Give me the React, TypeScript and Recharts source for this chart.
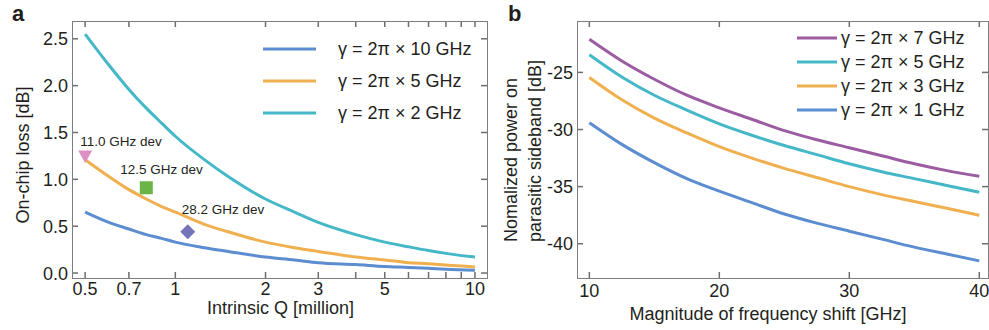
import React from "react";
import {
  ComposedChart,
  LineChart,
  Line,
  Scatter,
  XAxis,
  YAxis,
  Legend,
} from "recharts";

const FONT = '"Liberation Sans", Arial, Helvetica, sans-serif';
const INK = "#231f20";
const FRAME = "#7d7d7d";
const TICK = "#6e6e6e";

// panel a: on-chip loss vs intrinsic Q
const qMillion = [0.5, 0.6, 0.7, 0.8, 0.9, 1, 1.25, 1.5, 2, 2.5, 3, 4, 5, 6, 7, 8, 10];
const loss10GHz = [0.65, 0.54, 0.47, 0.41, 0.37, 0.33, 0.27, 0.23, 0.17, 0.14, 0.11, 0.09, 0.07, 0.06, 0.05, 0.04, 0.03];
const loss5GHz = [1.21, 1.03, 0.89, 0.79, 0.71, 0.65, 0.52, 0.44, 0.33, 0.27, 0.23, 0.17, 0.14, 0.11, 0.1, 0.085, 0.065];
const loss2GHz = [2.55, 2.22, 1.96, 1.76, 1.6, 1.46, 1.21, 1.03, 0.79, 0.65, 0.54, 0.41, 0.33, 0.28, 0.24, 0.21, 0.17];

const devQ = [0.5, 0.8, 1.1];
const devLoss = [1.25, 0.91, 0.44];
const devNames = ["11.0 GHz dev", "12.5 GHz dev", "28.2 GHz dev"];

const qTicks = [0.5, 0.7, 1, 2, 3, 4, 5, 6, 7, 8, 9, 10];
const qLabelled = [0.5, 0.7, 1, 2, 3, 5, 10];
const lossTicks = [0, 0.5, 1, 1.5, 2, 2.5];

// panel b: parasitic sideband power vs frequency shift
const shiftGHz = [10, 12.5, 15, 17.5, 20, 22.5, 25, 27.5, 30, 32.5, 35, 37.5, 40];
const side7GHz = [-22.1, -24.0, -25.6, -27.0, -28.1, -29.1, -30.1, -30.9, -31.6, -32.3, -33.0, -33.6, -34.1];
const side5GHz = [-23.45, -25.4, -27.0, -28.3, -29.5, -30.5, -31.4, -32.2, -33.0, -33.7, -34.3, -34.9, -35.5];
const side3GHz = [-25.45, -27.4, -29.0, -30.3, -31.5, -32.5, -33.4, -34.2, -35.0, -35.7, -36.3, -36.9, -37.5];
const side1GHz = [-29.4, -31.3, -32.9, -34.3, -35.4, -36.4, -37.4, -38.2, -38.9, -39.6, -40.3, -40.9, -41.5];

const shiftTicks = [10, 20, 30, 40];
const sideTicks = [-40, -35, -30, -25];

const lossData = qMillion.map((q, i) => ({
  q,
  g10: loss10GHz[i],
  g5: loss5GHz[i],
  g2: loss2GHz[i],
}));
const devData = devQ.map((q, i) => ({ q, loss: devLoss[i], name: devNames[i] }));
const sideData = shiftGHz.map((f, i) => ({
  f,
  g7: side7GHz[i],
  g5: side5GHz[i],
  g3: side3GHz[i],
  g1: side1GHz[i],
}));

const Q_DOMAIN: [number, number] = [0.452, 10.97];
const LOSS_DOMAIN: [number, number] = [-0.053, 2.69];
const SHIFT_DOMAIN: [number, number] = [9.05, 40.67];
const SIDE_DOMAIN: [number, number] = [-43.0, -20.5];

// plot box (chart coords), set by the margins below
const A = { top: 21, bottom: 278, left: 72, right: 487 };
const B = { top: 21, bottom: 278, left: 87, right: 498 };

const textStyle = { fill: INK, fontSize: 18, fontFamily: FONT };

// inward tick marks on both sides
const xTick = (top: number, labelDy: number, shown: number[] | null) => (props: any) => {
  const { x, y, payload } = props;
  const v = payload.value;
  const show = !shown || shown.includes(v);
  return (
    <g>
      <rect x={x - 0.75} y={y - 6} width={1.5} height={6} fill={TICK} />
      <rect x={x - 0.75} y={top} width={1.5} height={6} fill={TICK} />
      {show && (
        <text x={x} y={y + labelDy} textAnchor="middle" {...textStyle}>
          {v}
        </text>
      )}
    </g>
  );
};

const yTick = (right: number, fmt: (v: number) => string) => (props: any) => {
  const { x, y, payload } = props;
  return (
    <g>
      <rect x={x} y={y - 0.75} width={6} height={1.5} fill={TICK} />
      <rect x={right - 6} y={y - 0.75} width={6} height={1.5} fill={TICK} />
      <text x={x - 4} y={y + 6.5} textAnchor="end" {...textStyle}>
        {fmt(payload.value)}
      </text>
    </g>
  );
};

const legendContent = (order: string[], lineW: number, gap: number, rowH: number) => (props: any) => {
  const items = (props.payload || [])
    .filter((p: any) => order.includes(p.dataKey))
    .sort((p: any, q: any) => order.indexOf(p.dataKey) - order.indexOf(q.dataKey));
  return (
    <div style={{ fontFamily: FONT, fontSize: 18, color: INK, whiteSpace: "nowrap" }}>
      {items.map((p: any) => (
        <div key={p.dataKey} style={{ display: "flex", alignItems: "center", height: rowH }}>
          <svg width={lineW} height={4} style={{ display: "block" }}>
            <line x1={0} x2={lineW} y1={2} y2={2} stroke={p.color} strokeWidth={3} />
          </svg>
          <span style={{ marginLeft: gap }}>{p.value}</span>
        </div>
      ))}
    </div>
  );
};

// marker glyphs + their text, offsets from the point
const devStyles = [
  { color: "#db8fc3", dx: -5, dy: -10 },
  { color: "#6ab545", dx: -26, dy: -14 },
  { color: "#7574b8", dx: -6, dy: -18 },
];

const devShape = (i: number) => (props: any) => {
  const { cx, cy } = props;
  const s = devStyles[i];
  let glyph;
  if (i === 0) {
    glyph = <polygon points={`${cx - 7},${cy - 5.5} ${cx + 7},${cy - 5.5} ${cx},${cy + 7}`} fill={s.color} />;
  } else if (i === 1) {
    glyph = <rect x={cx - 6.5} y={cy - 6.5} width={13} height={13} fill={s.color} />;
  } else {
    glyph = <polygon points={`${cx},${cy - 7.5} ${cx + 7.5},${cy} ${cx},${cy + 7.5} ${cx - 7.5},${cy}`} fill={s.color} />;
  }
  return (
    <g>
      {glyph}
      <text x={cx + s.dx} y={cy + s.dy} fill={INK} fontSize={13.5} fontFamily={FONT}>
        {props.payload.name}
      </text>
    </g>
  );
};

const letter = (ch: string, left: number) => (
  <div
    style={{
      position: "absolute",
      left,
      top: 1,
      fontFamily: FONT,
      fontWeight: "bold",
      fontSize: 22,
      color: INK,
      lineHeight: "26px",
    }}
  >
    {ch}
  </div>
);

// plot frame overlay
const frame = (left: number, box: { top: number; bottom: number; left: number; right: number }) => (
  <div
    style={{
      position: "absolute",
      left: left + box.left,
      top: box.top,
      width: box.right - box.left + 1,
      height: box.bottom - box.top + 1,
      boxSizing: "border-box",
      border: `1px solid ${FRAME}`,
      pointerEvents: "none",
    }}
  />
);

export default function App() {
  return (
    <div style={{ position: "absolute", left: 0, top: 0, width: 989, height: 330, background: "#fff" }}>
      {letter("a", 12)}
      {letter("b", 508)}

      <div style={{ position: "absolute", left: 0, top: 0 }}>
        <ComposedChart
          width={500}
          height={330}
          data={lossData}
          margin={{ top: 21, right: 13, bottom: 22, left: 12 }}
        >
          <XAxis
            dataKey="q"
            type="number"
            scale="log"
            domain={Q_DOMAIN}
            allowDataOverflow
            ticks={qTicks}
            interval={0}
            height={30}
            axisLine={false}
            tickLine={false}
            tickSize={0}
            tickMargin={0}
            tick={xTick(A.top, 17, qLabelled)}
            label={(p: any) => (
              <text x={(A.left + A.right) / 2 + 1} y={314} textAnchor="middle" {...textStyle}>
                Intrinsic Q [million]
              </text>
            )}
          />
          <YAxis
            type="number"
            domain={LOSS_DOMAIN}
            allowDataOverflow
            ticks={lossTicks}
            interval={0}
            width={60}
            axisLine={false}
            tickLine={false}
            tickSize={0}
            tickMargin={0}
            tick={yTick(A.right, (v) => v.toFixed(1))}
            label={(p: any) => (
              <text
                x={28.5}
                y={155}
                transform="rotate(-90 28.5 155)"
                textAnchor="middle"
                {...textStyle}
              >
                On-chip loss [dB]
              </text>
            )}
          />
          <Legend
            layout="vertical"
            align="center"
            verticalAlign="middle"
            wrapperStyle={{ left: 263, top: 33 }}
            content={legendContent(["g10", "g5", "g2"], 53, 22, 32)}
          />
          <Line type="monotone" dataKey="g10" name="γ = 2π × 10 GHz" stroke="#5b8dd0" strokeWidth={3} dot={false} isAnimationActive={false} />
          <Line type="monotone" dataKey="g5" name="γ = 2π × 5 GHz" stroke="#f0b050" strokeWidth={3} dot={false} isAnimationActive={false} />
          <Line type="monotone" dataKey="g2" name="γ = 2π × 2 GHz" stroke="#45b8c8" strokeWidth={3} dot={false} isAnimationActive={false} />
          {devData.map((d, i) => (
            <Scatter
              key={d.name}
              data={[d]}
              dataKey="loss"
              legendType="none"
              shape={devShape(i)}
              isAnimationActive={false}
            />
          ))}
        </ComposedChart>
      </div>
      {frame(0, A)}

      <div style={{ position: "absolute", left: 490, top: 0 }}>
        <LineChart
          width={499}
          height={330}
          data={sideData}
          margin={{ top: 21, right: 1, bottom: 22, left: 27 }}
        >
          <XAxis
            dataKey="f"
            type="number"
            domain={SHIFT_DOMAIN}
            allowDataOverflow
            ticks={shiftTicks}
            interval={0}
            height={30}
            axisLine={false}
            tickLine={false}
            tickSize={0}
            tickMargin={0}
            tick={xTick(B.top, 18.7, null)}
            label={(p: any) => (
              <text x={278} y={319.5} textAnchor="middle" {...textStyle}>
                Magnitude of frequency shift [GHz]
              </text>
            )}
          />
          <YAxis
            type="number"
            domain={SIDE_DOMAIN}
            allowDataOverflow
            ticks={sideTicks}
            interval={0}
            width={60}
            axisLine={false}
            tickLine={false}
            tickSize={0}
            tickMargin={0}
            tick={yTick(B.right, (v) => String(v))}
            label={(p: any) => (
              <g>
                <text x={26.7} y={242} transform="rotate(-90 26.7 242)" textAnchor="start" {...textStyle}>
                  Nomalized power on
                </text>
                <text x={50.7} y={242} transform="rotate(-90 50.7 242)" textAnchor="start" {...textStyle}>
                  parasitic sideband [dB]
                </text>
              </g>
            )}
          />
          <Legend
            layout="vertical"
            align="center"
            verticalAlign="middle"
            wrapperStyle={{ left: 307, top: 26 }}
            content={legendContent(["g7", "g5", "g3", "g1"], 40, 4, 24)}
          />
          <Line type="monotone" dataKey="g7" name="γ = 2π × 7 GHz" stroke="#9b5ca1" strokeWidth={3} dot={false} isAnimationActive={false} />
          <Line type="monotone" dataKey="g5" name="γ = 2π × 5 GHz" stroke="#45b8c8" strokeWidth={3} dot={false} isAnimationActive={false} />
          <Line type="monotone" dataKey="g3" name="γ = 2π × 3 GHz" stroke="#f0b050" strokeWidth={3} dot={false} isAnimationActive={false} />
          <Line type="monotone" dataKey="g1" name="γ = 2π × 1 GHz" stroke="#5b8dd0" strokeWidth={3} dot={false} isAnimationActive={false} />
        </LineChart>
      </div>
      {frame(490, B)}
    </div>
  );
}
